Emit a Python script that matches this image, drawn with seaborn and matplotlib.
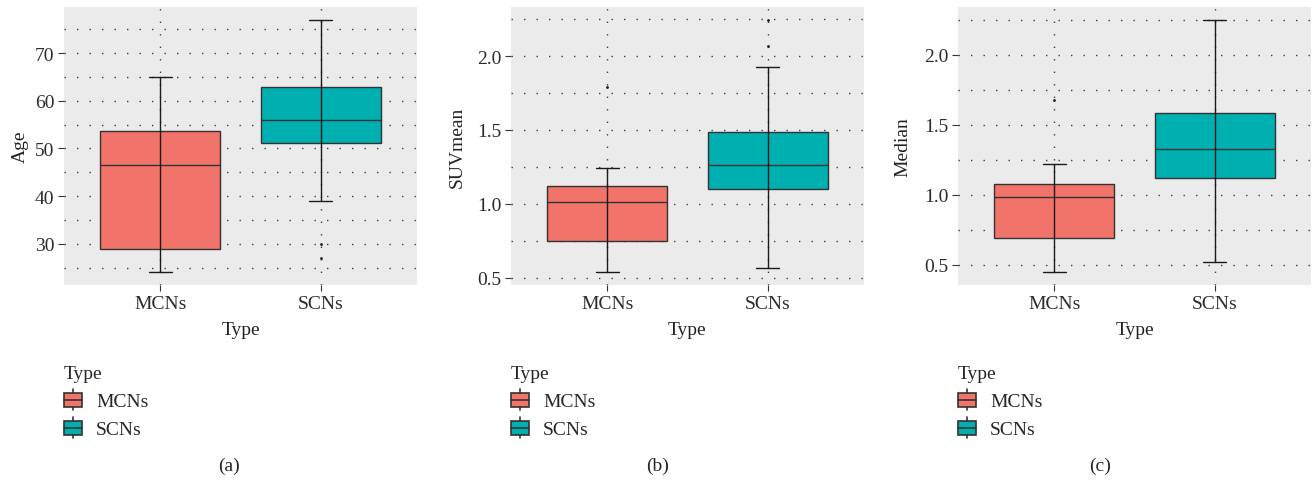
import matplotlib

matplotlib.use("Agg")
import matplotlib.pyplot as plt  # noqa: E402
import pandas as pd  # noqa: E402
import seaborn as sns  # noqa: E402
from matplotlib.legend_handler import HandlerBase  # noqa: E402
from matplotlib.lines import Line2D  # noqa: E402
from matplotlib.patches import Rectangle  # noqa: E402
from matplotlib.ticker import FormatStrFormatter, MultipleLocator  # noqa: E402

# --------------------------------------------------------------------------- #
# Values                                                   #
# box values: lower whisker, Q1, median, Q3, upper whisker                     #
# --------------------------------------------------------------------------- #
types = ["MCNs", "SCNs"]
palette = {"MCNs": "#F1736A", "SCNs": "#00AFAF"}

age_mcns = [24.0, 29.0, 46.6, 53.6, 65.0]
age_scns = [39.0, 51.2, 56.0, 62.9, 77.0]
age_out_mcns = []
age_out_scns = [30.0, 27.0]

suv_mcns = [0.535, 0.745, 1.013, 1.117, 1.243]
suv_scns = [0.564, 1.099, 1.263, 1.485, 1.928]
suv_out_mcns = [1.793]
suv_out_scns = [2.067, 2.247]

med_mcns = [0.447, 0.689, 0.986, 1.078, 1.223]
med_scns = [0.518, 1.121, 1.330, 1.582, 2.252]
med_out_mcns = [1.677]
med_out_scns = []

EDGE = "#333333"
FS = 14

sns.set_theme(style="ticks")
plt.rcParams["font.family"] = ["Liberation Serif", "DejaVu Serif"]
plt.rcParams["axes.facecolor"] = "#EBEBEB"


class BoxKey(HandlerBase):
    """ggplot-like boxplot legend key."""

    def create_artists(self, legend, orig_handle, xdescent, ydescent,
                       width, height, fontsize, trans):
        x0, y0 = -xdescent, -ydescent
        xc = x0 + width / 2
        kw = dict(color=EDGE, lw=1.2, transform=trans)
        box = Rectangle((x0, y0 + 0.17 * height), width, 0.66 * height,
                        facecolor=orig_handle.get_facecolor(), edgecolor=EDGE,
                        lw=1.2, transform=trans)
        med = Line2D([x0, x0 + width], [y0 + 0.5 * height] * 2, **kw)
        top = Line2D([xc, xc], [y0 + 0.83 * height, y0 + height], **kw)
        bot = Line2D([xc, xc], [y0, y0 + 0.17 * height], **kw)
        return [box, med, top, bot]


def draw_panel(ax, ylabel, mcns, scns, out_mcns, out_scns, major, minor, fmt, ylab_x):
    df = pd.DataFrame({"Type": ["MCNs"] * len(mcns) + ["SCNs"] * len(scns),
                       "value": mcns + scns})
    out = pd.DataFrame({"Type": ["MCNs"] * len(out_mcns) + ["SCNs"] * len(out_scns),
                        "value": out_mcns + out_scns})

    sns.boxplot(data=df, x="Type", y="value", hue="Type", order=types, hue_order=types,
                palette=palette, saturation=1, width=0.75, showcaps=False,
                showfliers=False, whiskerprops={"visible": False},
                linecolor=EDGE, linewidth=1.0, legend=False, ax=ax)
    # whiskers as errorbars spanning the whole range (drawn through the box)
    sns.pointplot(data=df, x="Type", y="value", order=types, estimator="median",
                  errorbar=("pi", 100), capsize=0.14, color="#1a1a1a",
                  marker="", linestyle="none",
                  err_kws={"linewidth": 1.0, "zorder": 3}, ax=ax)
    if len(out):
        sns.stripplot(data=out, x="Type", y="value", order=types, jitter=False,
                      color="#1a1a1a", size=2.0, linewidth=0, zorder=4, ax=ax)

    allv = mcns + scns + out_mcns + out_scns
    pad = 0.05 * (max(allv) - min(allv))
    ax.set_ylim(min(allv) - pad, max(allv) + pad)
    ax.set_xlim(-0.6, 1.6)

    ax.yaxis.set_major_locator(MultipleLocator(major))
    ax.yaxis.set_minor_locator(MultipleLocator(minor))
    ax.yaxis.set_major_formatter(FormatStrFormatter(fmt))
    ax.set_axisbelow(True)
    grid_kw = dict(color="#3d3d3d", lw=1.0, ls=(0, (1, 8)))
    ax.grid(which="both", axis="y", **grid_kw)
    ax.grid(which="major", axis="x", **grid_kw)
    for s in ax.spines.values():
        s.set_visible(False)
    ax.tick_params(which="major", length=4, width=0.8, color=EDGE,
                   labelcolor="#2b2b2b", labelsize=FS, pad=3)
    ax.tick_params(which="minor", length=0)

    ax.set_xlabel("Type", fontsize=FS, color="#222222")
    ax.xaxis.set_label_coords(0.5, -0.13)
    ax.set_ylabel(ylabel, fontsize=FS, color="#222222")
    ax.yaxis.set_label_coords(ylab_x, 0.5)
    ax.yaxis.label.set_verticalalignment("center")


W, H = 1314, 481
fig = plt.figure(figsize=(W / 100, H / 100), dpi=100)

panels = [
    (64, "Age", age_mcns, age_scns, age_out_mcns, age_out_scns, 10, 5, "%.0f", -0.124, 229, "(a)"),
    (511, "SUVmean", suv_mcns, suv_scns, suv_out_mcns, suv_out_scns, 0.5, 0.25, "%.1f", -0.153, 658, "(b)"),
    (958, "Median", med_mcns, med_scns, med_out_mcns, med_out_scns, 0.5, 0.25, "%.1f", -0.156, 1100, "(c)"),
]

handles = [Rectangle((0, 0), 1, 1, facecolor=palette[t]) for t in types]
for left, ylabel, m, s, om, os_, major, minor, fmt, ylx, cap_x, cap in panels:
    ax = fig.add_axes([left / W, (H - 286) / H, 353 / W, 278 / H])
    draw_panel(ax, ylabel, m, s, om, os_, major, minor, fmt, ylx)

    fig.legend(handles, types, title="Type", handler_map={Rectangle: BoxKey()},
               loc="upper left", bbox_to_anchor=(left / W, 1 - 366 / H),
               frameon=False, borderpad=0, borderaxespad=0, fontsize=FS,
               title_fontsize=FS, handlelength=0.95, handleheight=1.3,
               handletextpad=0.7, labelspacing=0.36, alignment="left")
    fig.text(cap_x / W, 1 - 466 / H, cap, ha="center", va="center", fontsize=FS)

fig.savefig("out.png", dpi=100)
